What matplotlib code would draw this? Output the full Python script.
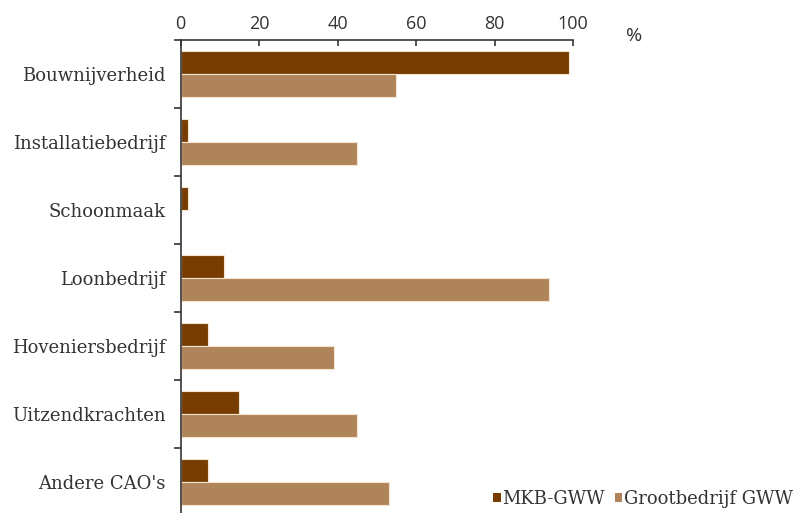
import matplotlib.pyplot as plt
from matplotlib.patches import Patch
import numpy as np

categories = ["Bouwnijverheid", "Installatiebedrijf", "Schoonmaak", "Loonbedrijf",
              "Hoveniersbedrijf", "Uitzendkrachten", "Andere CAO's"]
mkb_gww = [99, 2, 2, 11, 7, 15, 7]
groot_gww = [55, 45, 0, 94, 39, 45, 53]
x_ticks = [0, 20, 40, 60, 80, 100]

mkb_color = "#773d00"
groot_color = "#b0845a"
edge = "#f3e4d2"
label_font = ["DejaVu Serif"]
tick_font = ["Open Sans"]

fig = plt.figure(figsize=(7.96, 5.13), dpi=100)
ax = fig.add_axes([180.5 / 796, -3 / 513, 392.5 / 796, 476 / 513])

y = np.arange(len(categories))
h = 0.34
ax.barh(y - h / 2, mkb_gww, height=h, color=mkb_color, edgecolor=edge, linewidth=0.8)
ax.barh(y + h / 2, groot_gww, height=h, color=groot_color, edgecolor=edge, linewidth=0.8)

ax.set_xlim(0, 100)
ax.set_ylim(len(categories) - 0.5, -0.5)

# value axis on top
ax.xaxis.tick_top()
ax.set_xticks(x_ticks)
ax.set_xticklabels([str(t) for t in x_ticks], family=tick_font, fontsize=13, color="#333333")
ax.tick_params(axis="x", direction="in", length=4, width=1.2, pad=5, color="#333333")

# category labels, ticks between groups
ax.set_yticks(y)
ax.set_yticklabels(categories, family=label_font, fontsize=13, color="#333333")
ax.tick_params(axis="y", which="major", length=0, pad=10.5)
ax.set_yticks(np.arange(len(categories) + 1) - 0.5, minor=True)
ax.tick_params(axis="y", which="minor", direction="out", length=5, width=1.2, color="#333333")

for s in ["right", "bottom"]:
    ax.spines[s].set_visible(False)
for s in ["top", "left"]:
    ax.spines[s].set_linewidth(1.2)
    ax.spines[s].set_color("#333333")

fig.text(634 / 796, 1 - 36 / 513, "%", family=tick_font, fontsize=14, color="#333333",
         ha="center", va="center")

handles = [Patch(facecolor=mkb_color, label="MKB-GWW"),
           Patch(facecolor=groot_color, label="Grootbedrijf GWW")]
fig.legend(handles=handles, loc="lower right", bbox_to_anchor=(1.012, -0.014), ncol=2,
           frameon=False, handlelength=0.4, handleheight=0.4, handletextpad=0.1,
           columnspacing=0.55, borderaxespad=0.3,
           prop={"family": label_font, "size": 13})
for t in fig.legends[0].get_texts():
    t.set_color("#333333")

fig.savefig("out.png", dpi=100)
